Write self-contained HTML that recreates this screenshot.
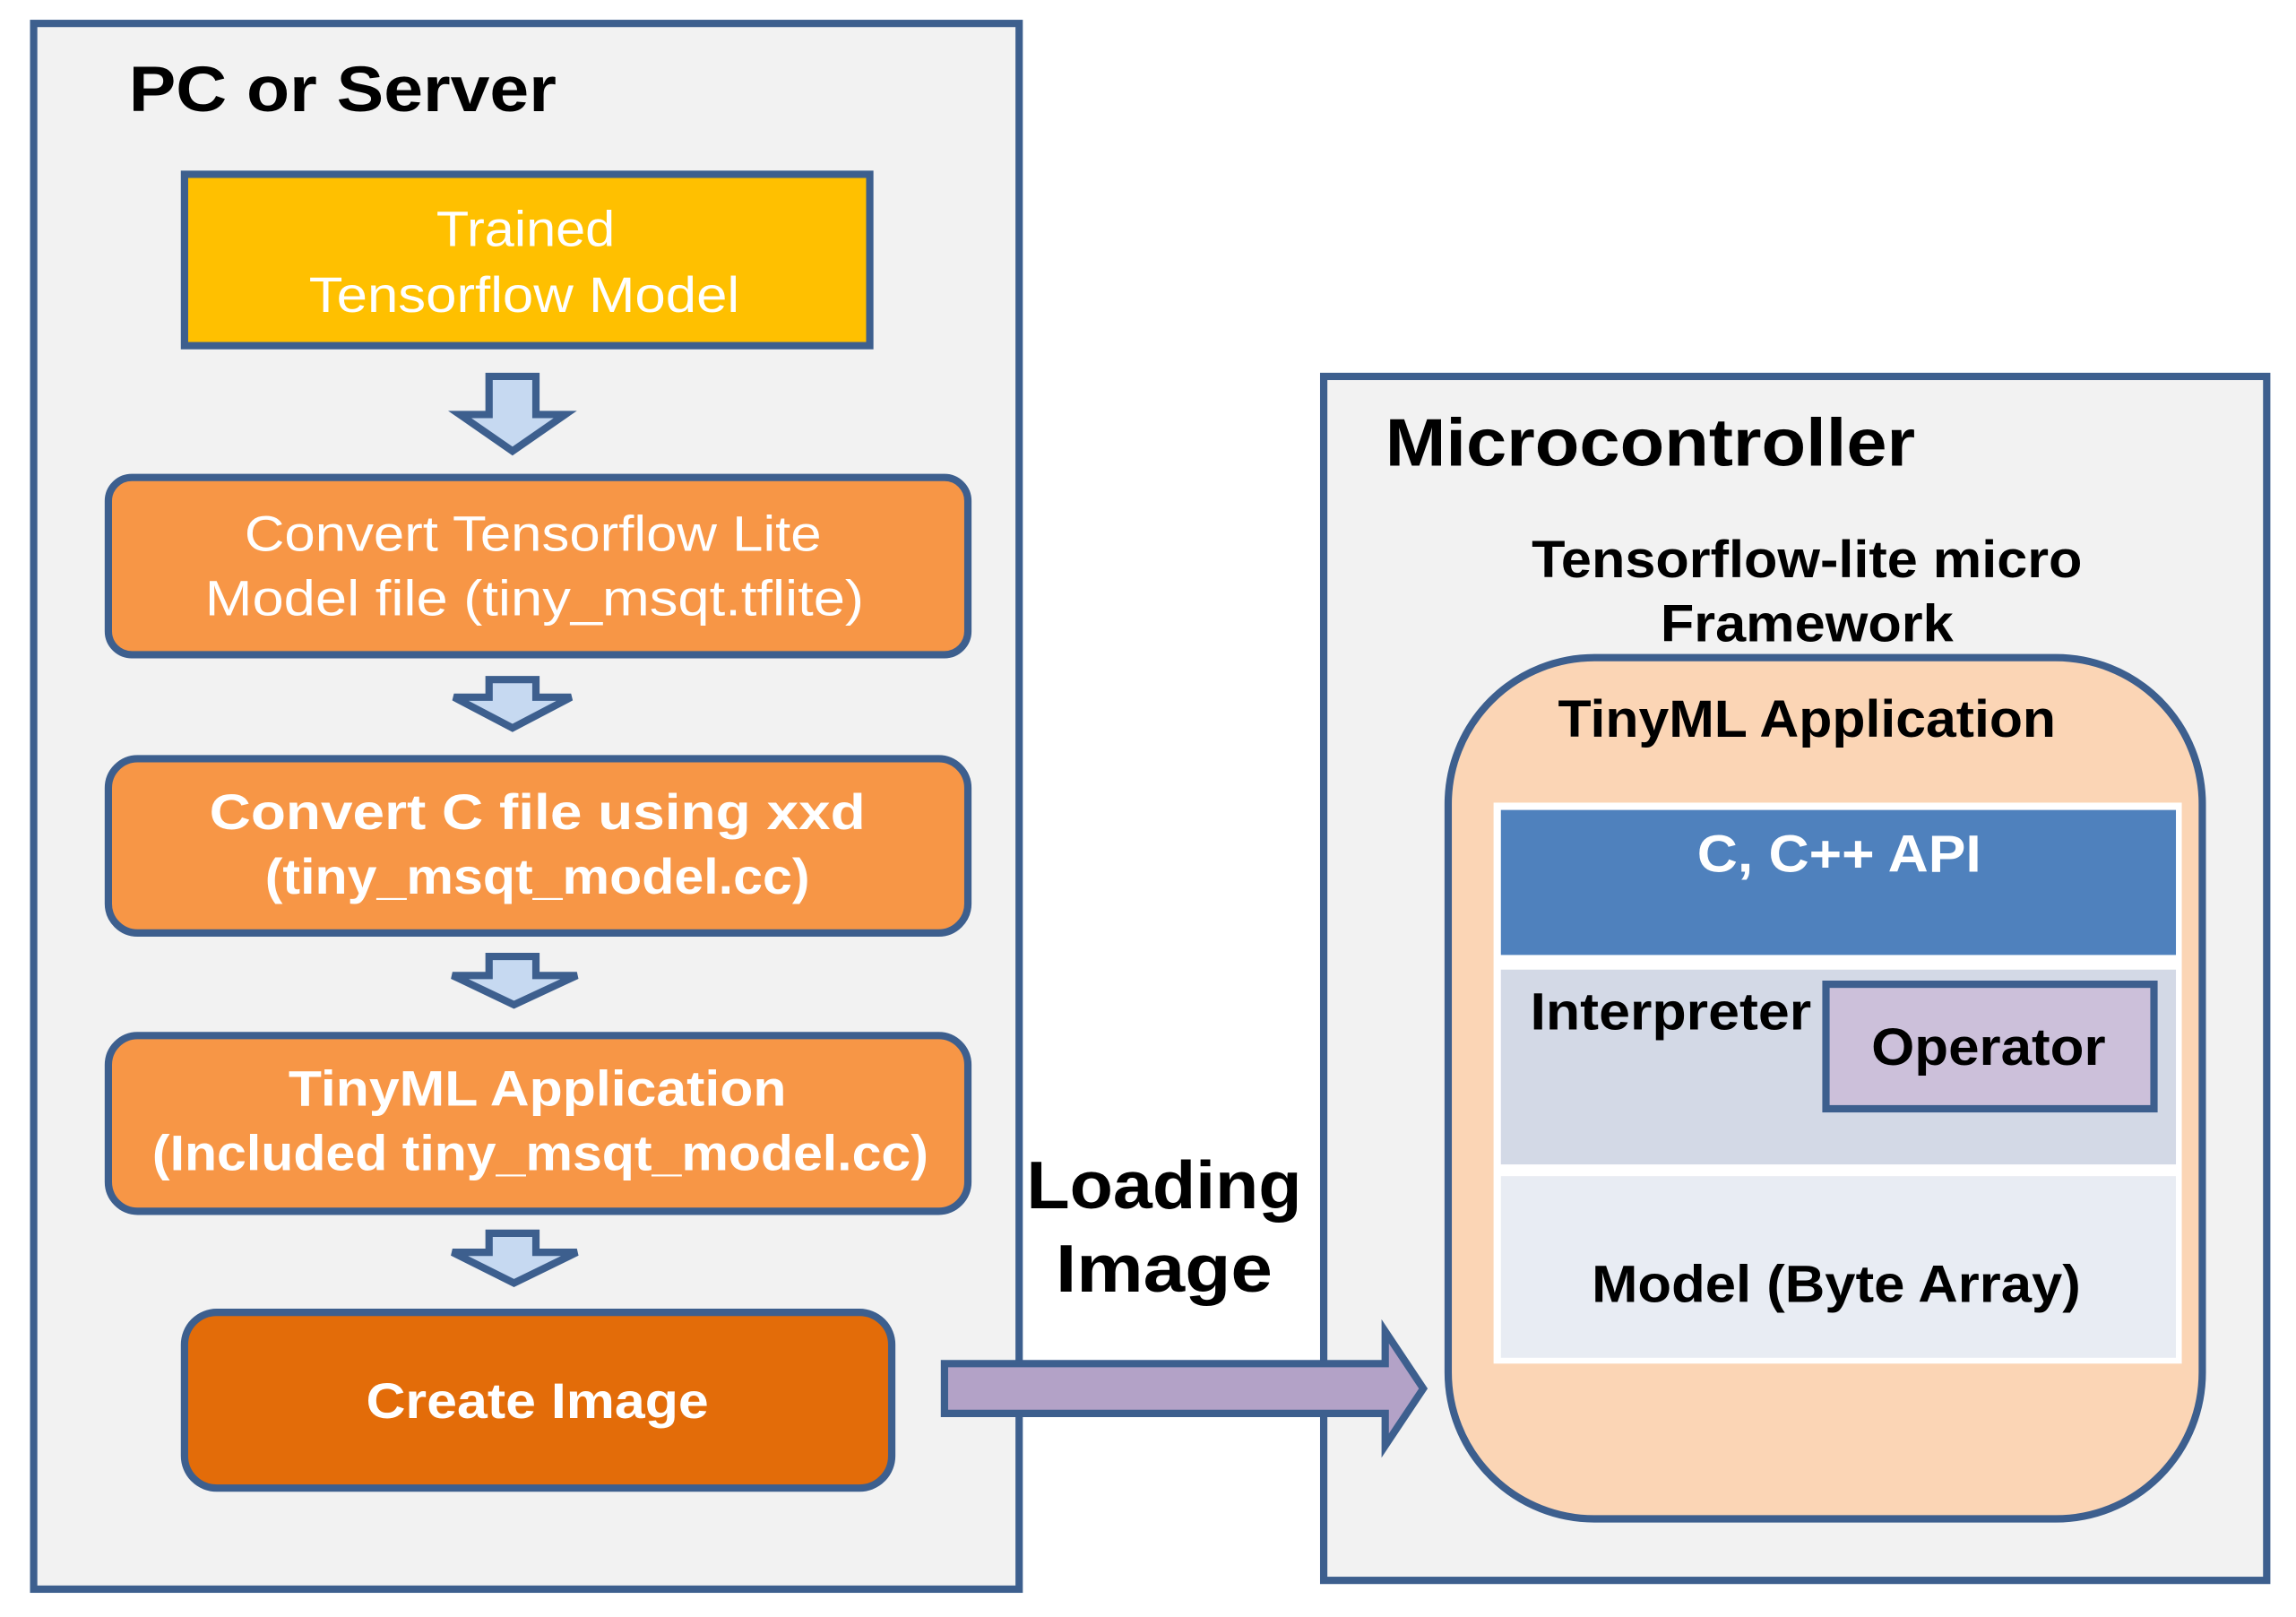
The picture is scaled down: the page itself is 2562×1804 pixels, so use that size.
<!DOCTYPE html>
<html><head><meta charset="utf-8"><style>
html,body{margin:0;padding:0;background:#fff;}
svg{display:block;}
text{font-family:"Liberation Sans",sans-serif;}
</style></head><body>
<svg width="2562" height="1804" viewBox="0 0 1568 1104" preserveAspectRatio="none" xmlns="http://www.w3.org/2000/svg">
<rect width="1568" height="1104" fill="#fff"/>
<rect x="23" y="16" width="673" height="1069" fill="#f2f2f2" stroke="#3d5f8e" stroke-width="5"/>
<text x="88" y="76" font-size="44" font-weight="bold" fill="#000" textLength="292" lengthAdjust="spacingAndGlyphs">PC or Server</text>

<rect x="126" y="119" width="468" height="117" fill="#ffc000" stroke="#3d5f8e" stroke-width="5"/>
<text x="359" y="168" font-size="34" fill="#fff" text-anchor="middle" textLength="122" lengthAdjust="spacingAndGlyphs">Trained</text>
<text x="358" y="213" font-size="34" fill="#fff" text-anchor="middle" textLength="294" lengthAdjust="spacingAndGlyphs">Tensorflow Model</text>

<g fill="#c6d9f1" stroke="#3d5f8e" stroke-width="5" stroke-linejoin="miter">
<polygon points="334,257 366,257 366,283 386,283 350,308 314,283 334,283"/>
<polygon points="334,464 366,464 366,476 390,476 350,497 310,476 334,476"/>
<polygon points="334,653 366,653 366,666 394,666 351,686 309,666 334,666"/>
<polygon points="334,842 366,842 366,855 394,855 351,876 309,855 334,855"/>
</g>

<rect x="74" y="326" width="587" height="121" rx="16" fill="#f79646" stroke="#3d5f8e" stroke-width="5"/>
<text x="364" y="376" font-size="34" fill="#fff" text-anchor="middle" textLength="394" lengthAdjust="spacingAndGlyphs">Convert Tensorflow Lite</text>
<text x="365" y="420" font-size="34" fill="#fff" text-anchor="middle" textLength="450" lengthAdjust="spacingAndGlyphs">Model file (tiny_msqt.tflite)</text>

<rect x="74" y="518" width="587" height="119" rx="20" fill="#f79646" stroke="#3d5f8e" stroke-width="5"/>
<text x="367" y="566" font-size="34" font-weight="bold" fill="#fff" text-anchor="middle" textLength="448" lengthAdjust="spacingAndGlyphs">Convert  C file using  xxd</text>
<text x="367" y="610" font-size="34" font-weight="bold" fill="#fff" text-anchor="middle" textLength="372" lengthAdjust="spacingAndGlyphs">(tiny_msqt_model.cc)</text>

<rect x="74" y="707" width="587" height="120" rx="20" fill="#f79646" stroke="#3d5f8e" stroke-width="5"/>
<text x="367" y="755" font-size="34" font-weight="bold" fill="#fff" text-anchor="middle" textLength="340" lengthAdjust="spacingAndGlyphs">TinyML Application</text>
<text x="369" y="799" font-size="34" font-weight="bold" fill="#fff" text-anchor="middle" textLength="530" lengthAdjust="spacingAndGlyphs">(Included tiny_msqt_model.cc)</text>

<rect x="126" y="896" width="483" height="120" rx="22" fill="#e36c09" stroke="#3d5f8e" stroke-width="5"/>
<text x="367" y="968" font-size="34" font-weight="bold" fill="#fff" text-anchor="middle" textLength="234" lengthAdjust="spacingAndGlyphs">Create Image</text>

<text x="795" y="825" font-size="46" font-weight="bold" fill="#000" text-anchor="middle" textLength="188" lengthAdjust="spacingAndGlyphs">Loading</text>
<text x="795" y="882" font-size="46" font-weight="bold" fill="#000" text-anchor="middle" textLength="148" lengthAdjust="spacingAndGlyphs">Image</text>

<rect x="904" y="257" width="644" height="822" fill="#f2f2f2" stroke="#3d5f8e" stroke-width="5"/>
<text x="946" y="318" font-size="46" font-weight="bold" fill="#000" textLength="362" lengthAdjust="spacingAndGlyphs">Microcontroller</text>
<text x="1234" y="394" font-size="36" font-weight="bold" fill="#000" text-anchor="middle" textLength="376" lengthAdjust="spacingAndGlyphs">Tensorflow-lite micro</text>
<text x="1234" y="438" font-size="36" font-weight="bold" fill="#000" text-anchor="middle" textLength="200" lengthAdjust="spacingAndGlyphs">Framework</text>

<polygon points="645,931 946,931 946,909 972,948 946,987 946,965 645,965" fill="#b3a2c7" stroke="#3d5f8e" stroke-width="5"/>

<rect x="989" y="449" width="515" height="588" rx="100" fill="#fbd5b5" stroke="#3d5f8e" stroke-width="5"/>
<text x="1234" y="503" font-size="36" font-weight="bold" fill="#000" text-anchor="middle" textLength="340" lengthAdjust="spacingAndGlyphs">TinyML Application</text>

<rect x="1020" y="548" width="470" height="383" fill="#fff"/>
<rect x="1025" y="553" width="461" height="99" fill="#4f81bd"/>
<text x="1256" y="595" font-size="36" font-weight="bold" fill="#fff" text-anchor="middle" textLength="194" lengthAdjust="spacingAndGlyphs">C, C++ API</text>
<rect x="1025" y="662" width="461" height="133" fill="#d3d9e6"/>
<text x="1045" y="703" font-size="36" font-weight="bold" fill="#000" textLength="192" lengthAdjust="spacingAndGlyphs">Interpreter</text>
<rect x="1247" y="672" width="224" height="85" fill="#ccc0da" stroke="#3d5f8e" stroke-width="5"/>
<text x="1358" y="727" font-size="36" font-weight="bold" fill="#000" text-anchor="middle" textLength="160" lengthAdjust="spacingAndGlyphs">Operator</text>
<rect x="1025" y="803" width="461" height="124" fill="#e8ecf3"/>
<text x="1254" y="889" font-size="36" font-weight="bold" fill="#000" text-anchor="middle" textLength="334" lengthAdjust="spacingAndGlyphs">Model (Byte Array)</text>
</svg>
</body></html>
